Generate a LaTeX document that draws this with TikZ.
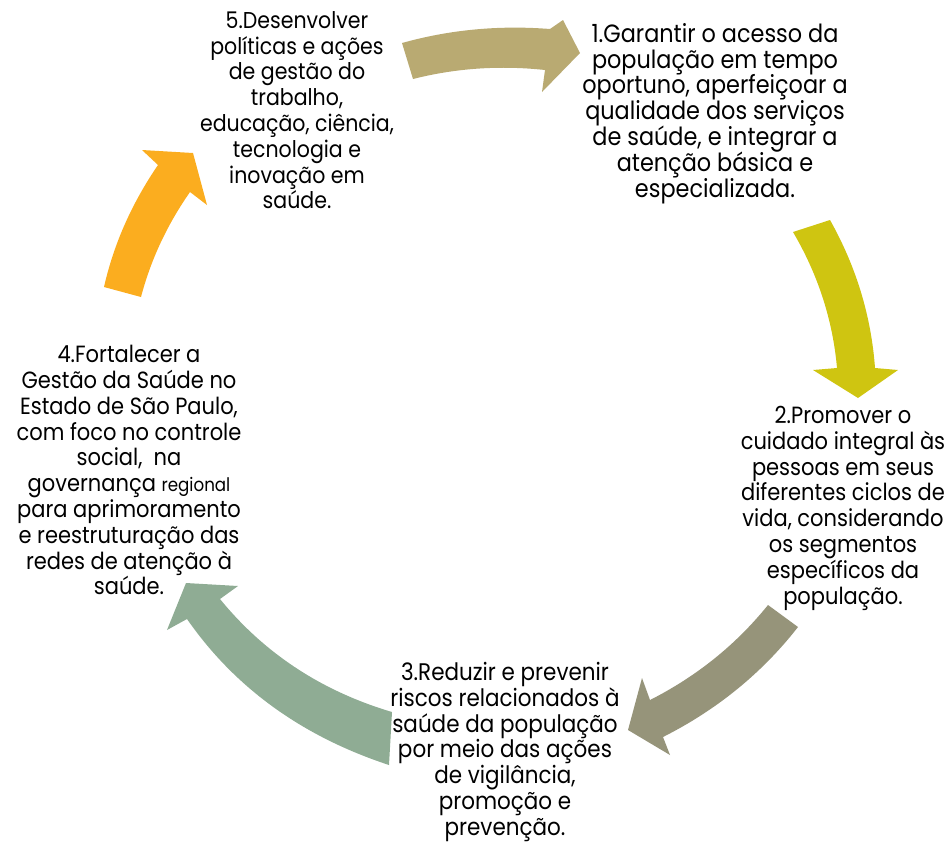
\documentclass[tikz,border=0pt]{standalone}
\usepackage{fontspec}
\setmainfont{Poppins}[FakeStretch=0.895]
\usetikzlibrary{calc}
\definecolor{arrA}{RGB}{185,170,114}
\definecolor{arrB}{RGB}{207,197,17}
\definecolor{arrC}{RGB}{150,148,122}
\definecolor{arrD}{RGB}{143,172,148}
\definecolor{arrE}{RGB}{251,173,31}
\newcommand{\cyctxtfont}[1]{\fontsize{#1}{19.35}\selectfont\setlength{\lineskiplimit}{-100pt}}
\begin{document}
\begin{tikzpicture}[x=0.75pt,y=-0.75pt,
  txt/.style={align=center,inner sep=0pt,anchor=north,text=black,font=\cyctxtfont{#1}},
  txt/.default=18.75]
\useasboundingbox (0,0) rectangle (949,851);
\node[txt=18.75] (n1) at (715,23) {1.Garantir o acesso da\\população em tempo\\oportuno, aperfeiçoar a\\qualidade dos serviços\\de saúde, e integrar a\\atenção básica e\\especializada.};
\node[txt=17.6] (n2) at (843,406) {2.Promover o\\cuidado integral às\\pessoas em seus\\diferentes ciclos de\\vida, considerando\\os segmentos\\específicos da\\população.};
\node[txt=18] (n3) at (505,662) {3.Reduzir e prevenir\\riscos relacionados à\\saúde da população\\por meio das ações\\de vigilância,\\promoção e\\prevenção.};
\node[txt=17.6] (n4) at (129,345) {4.Fortalecer a\\Gestão da Saúde no\\Estado de São Paulo,\\com foco no controle\\social,\ \ na\\governança {\fontsize{14}{19.35}\selectfont regional}\\para aprimoramento\\e reestruturação das\\redes de atenção à\\saúde.};
\node[txt=17.2] (n5) at (297,11) {5.Desenvolver\\políticas e ações\\de gestão do\\trabalho,\\educação, ciência,\\tecnologia e\\inovação em\\saúde.};
% arrow 5 -> 1
\fill[arrA] (402,43) .. controls ($(402,43)!2/3!(473.4,23)$) and ($(550,29)!2/3!(473.4,23)$) .. (550,29)
  -- (563,20) -- (580,53) -- (542,92) -- (545,70)
  .. controls ($(545,70)!2/3!(477.2,62.7)$) and ($(413,79)!2/3!(477.2,62.7)$) .. (413,79) -- cycle;
% arrow 1 -> 2
\fill[arrB] (830,220) .. controls ($(830,220)!2/3!(869.3,290)$) and ($(875,368)!2/3!(869.3,290)$) .. (875,368)
  -- (898,370) -- (858,398) -- (813,370) -- (837,368)
  .. controls ($(837,368)!2/3!(830.6,296)$) and ($(793,232)!2/3!(830.6,296)$) .. (793,232) -- cycle;
% arrow 2 -> 3
\fill[arrC] (798,627) .. controls ($(798,627)!2/3!(743.9,696.2)$) and ($(663,737)!2/3!(743.9,696.2)$) .. (663,737)
  -- (670,755) -- (628,730) -- (642,678) -- (650,700)
  .. controls ($(650,700)!2/3!(720,664.5)$) and ($(768,605)!2/3!(720,664.5)$) .. (768,605) -- cycle;
% arrow 3 -> 4
\fill[arrD] (389,765) .. controls ($(389,765)!2/3!(258.8,722.2)$) and ($(187,619)!2/3!(258.8,722.2)$) .. (187,619)
  -- (167,630) -- (186,583) -- (238,586) -- (220,599)
  .. controls ($(220,599)!2/3!(286.6,680.7)$) and ($(392,712)!2/3!(286.6,680.7)$) .. (392,712) -- cycle;
% arrow 4 -> 5
\fill[arrE] (104,287) .. controls ($(104,287)!2/3!(118.6,222.6)$) and ($(158,165)!2/3!(118.6,222.6)$) .. (158,165)
  -- (142,150) -- (193,153) -- (207,205) -- (190,192)
  .. controls ($(190,192)!2/3!(155.7,241.1)$) and ($(141,297)!2/3!(155.7,241.1)$) .. (141,297) -- cycle;
\end{tikzpicture}
\end{document}
